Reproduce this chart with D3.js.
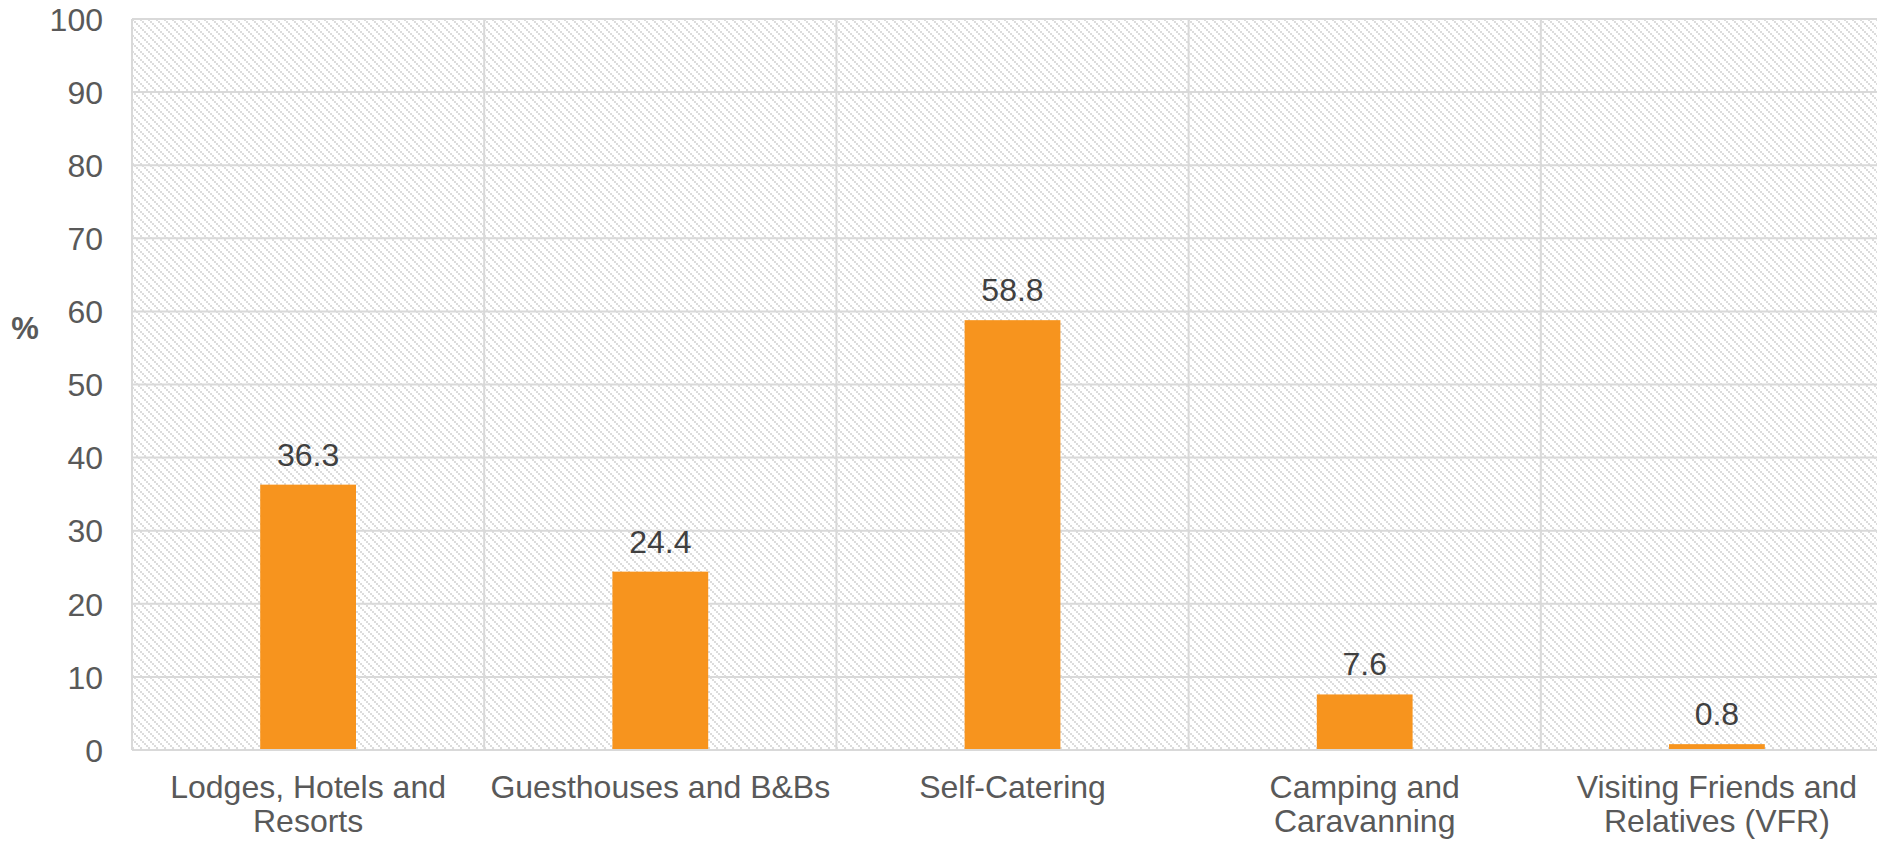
<!DOCTYPE html>
<html>
<head>
<meta charset="utf-8">
<script src="https://cdn.jsdelivr.net/npm/d3@7"></script>
<style>
  html, body { margin: 0; padding: 0; background: #fff; }
  svg { display: block; overflow: hidden; }
  text { font-family: "Liberation Sans", Arial, sans-serif; }
</style>
</head>
<body>
<svg id="chart" width="1877" height="842"></svg>
<script>
// Accommodation type used (%)
const categories = [
  "Lodges, Hotels and\nResorts",
  "Guesthouses and B&Bs",
  "Self-Catering",
  "Camping and\nCaravanning",
  "Visiting Friends and\nRelatives (VFR)"
];
const shares = [36.3, 24.4, 58.8, 7.6, 0.8];
const yTicks = [0, 10, 20, 30, 40, 50, 60, 70, 80, 90, 100];
const yTitle = "%";

const svg = d3.select("#chart");
const margin = { left: 132, top: 19, bottom: 750, right: 1893 };

// Diagonal stepped hatch used as the plot-area fill
const defs = svg.append("defs");
const pat = defs.append("pattern")
  .attr("id", "hatch")
  .attr("patternUnits", "userSpaceOnUse")
  .attr("x", margin.left).attr("y", margin.top)
  .attr("width", 8).attr("height", 8);
pat.append("rect").attr("width", 8).attr("height", 8).attr("fill", "#ffffff");
[0, 2, 4, 6].forEach(d => {
  pat.append("rect").attr("x", d).attr("y", d).attr("width", 2).attr("height", 2).attr("fill", "#dcdcdc");
});

const x = d3.scaleBand()
  .domain(categories)
  .range([margin.left, margin.right])
  .paddingInner(0).paddingOuter(0);

const y = d3.scaleLinear()
  .domain([0, 100])
  .range([margin.bottom, margin.top]);

// Plot background
svg.append("rect")
  .attr("x", margin.left).attr("y", margin.top)
  .attr("width", margin.right - margin.left)
  .attr("height", margin.bottom - margin.top)
  .attr("fill", "url(#hatch)");

// Horizontal gridlines
svg.append("g")
  .selectAll("line")
  .data(yTicks)
  .join("line")
  .attr("x1", margin.left).attr("x2", margin.right)
  .attr("y1", d => y(d)).attr("y2", d => y(d))
  .attr("stroke", "#d9d9d9").attr("stroke-width", 2);

// Vertical category separators
const bounds = categories.map(c => x(c)).concat([margin.right]);
svg.append("g")
  .selectAll("line")
  .data(bounds)
  .join("line")
  .attr("x1", d => d).attr("x2", d => d)
  .attr("y1", margin.top).attr("y2", margin.bottom)
  .attr("stroke", "#d9d9d9").attr("stroke-width", 2);

// Bars
const barW = x.bandwidth() * 0.272;
svg.append("g")
  .selectAll("rect")
  .data(shares)
  .join("rect")
  .attr("x", (d, i) => x(categories[i]) + x.bandwidth() / 2 - barW / 2)
  .attr("y", d => y(d))
  .attr("width", barW)
  .attr("height", d => y(0) - y(d))
  .attr("fill", "#f7941e");

// Baseline axis line
svg.append("line")
  .attr("x1", margin.left).attr("x2", margin.right)
  .attr("y1", y(0)).attr("y2", y(0))
  .attr("stroke", "#d9d9d9").attr("stroke-width", 2);

// Value labels
svg.append("g")
  .selectAll("text")
  .data(shares)
  .join("text")
  .attr("x", (d, i) => x(categories[i]) + x.bandwidth() / 2)
  .attr("y", d => y(d) - 19)
  .attr("text-anchor", "middle")
  .attr("font-size", 32)
  .attr("fill", "#404040")
  .text(d => d.toFixed(1));

// Y axis tick labels
const yAxis = d3.axisLeft(y).tickValues(yTicks).tickSize(0).tickPadding(0);
const gy = svg.append("g").attr("transform", `translate(${margin.left - 29},0)`).call(yAxis);
gy.select(".domain").remove();
gy.selectAll("text")
  .attr("font-size", 32)
  .attr("font-family", "Liberation Sans, Arial, sans-serif")
  .attr("fill", "#595959")
  .attr("dy", "0.35em");

// Y axis title
svg.append("text")
  .attr("x", 25).attr("y", 328)
  .attr("text-anchor", "middle")
  .attr("dominant-baseline", "central")
  .attr("font-size", 31)
  .attr("font-weight", "bold")
  .attr("fill", "#595959")
  .text(yTitle);

// Category labels (wrapped on line breaks)
const xl = svg.append("g");
categories.forEach(c => {
  const t = xl.append("text")
    .attr("x", x(c) + x.bandwidth() / 2)
    .attr("y", 798)
    .attr("text-anchor", "middle")
    .attr("font-size", 32)
    .attr("fill", "#595959");
  c.split("\n").forEach((line, i) => {
    t.append("tspan")
      .attr("x", x(c) + x.bandwidth() / 2)
      .attr("dy", i === 0 ? 0 : 34)
      .text(line);
  });
});
</script>
</body>
</html>
